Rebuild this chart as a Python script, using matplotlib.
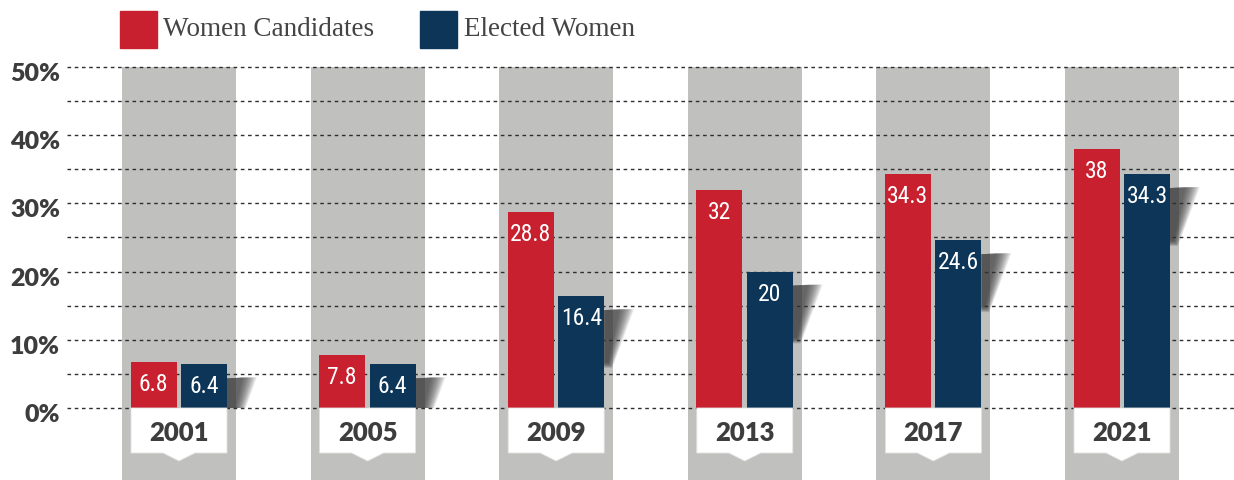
import numpy as np
import matplotlib.pyplot as plt
from matplotlib import font_manager
from matplotlib.patches import Rectangle, Polygon

# Share of women among candidates and among elected members (%)
years = ['2001', '2005', '2009', '2013', '2017', '2021']
candidates = [6.8, 7.8, 28.8, 32, 34.3, 38]
elected = [6.4, 6.4, 16.4, 20, 24.6, 34.3]
y_ticks = [0, 10, 20, 30, 40, 50]
series_names = ['Women Candidates', 'Elected Women']

RED = '#c8202e'
BLUE = '#0c3558'
COLUMN = '#c0c0bf'
TEXT = '#3d3d3d'

# narrow face for the numbers inside the bars, if one is around
installed = {f.name for f in font_manager.fontManager.ttflist}
NUM_FONT = 'Roboto'
for cand in ['Roboto Condensed', 'Liberation Sans Narrow']:
    if cand in installed:
        NUM_FONT = cand
        break

W, H = 1234, 480
fig = plt.figure(figsize=(W / 100, H / 100), dpi=100)
ax = fig.add_axes([0, 0, 1, 1])

# one election per unit on x, percent on y; helpers convert pixel offsets
PX_X = 188.6
PX_Y = 6.82
def dx(p):
    return p / PX_X
def dy(p):
    return p / PX_Y

x0_px, y0_px = 179, 408
ax.set_xlim(-x0_px / PX_X, (W - x0_px) / PX_X)
ax.set_ylim(-(H - y0_px) / PX_Y, y0_px / PX_Y)
ax.axis('off')
ymin = ax.get_ylim()[0]

x = np.arange(len(years))

# grey background column behind each election
ax.bar(x, 50 - ymin, bottom=ymin, width=dx(114), color=COLUMN, zorder=1)

# dotted guide lines every 5%
for v in np.arange(0, 55, 5):
    ax.plot([dx(67 - x0_px), ax.get_xlim()[1]], [v, v], color='#2e2e2e',
            lw=1, linestyle=(0, (2.6, 2.6)), zorder=2)

for v in y_ticks:
    ax.text(dx(60 - x0_px), v - dy(14), f'{v}%', ha='right', va='baseline',
            fontsize=18, fontfamily='Lato', fontweight='heavy', color=TEXT)

ax.bar(x - dx(25.5), candidates, width=dx(46), color=RED, zorder=4)
ax.bar(x + dx(25), elected, width=dx(46), color=BLUE, zorder=4)

# soft drop shadow to the right of the elected bars
n_layers = 18
for xi, e in zip(x, elected):
    xr = xi + dx(48)
    top = e - dy(14)
    for k in range(n_layers):
        f = 0.5 + 0.5 * k / (n_layers - 1)
        tip = 30 * f
        low = 8 * f
        full = 58 * (0.8 + 0.2 * f)
        depth = min(full, top * PX_Y)
        bx = tip - (tip - low) * depth / full
        pts = [(xr, top), (xr + dx(tip), top + dy(1)),
               (xr + dx(bx), top - dy(depth)), (xr, top - dy(depth))]
        ax.add_patch(Polygon(pts, closed=True, facecolor='#3a3a3a',
                             edgecolor='none', alpha=0.075, zorder=3))

for xi, c, e in zip(x, candidates, elected):
    ax.text(xi - dx(25.5), c - dy(29), f'{c:g}', ha='center', va='baseline',
            fontsize=17, fontfamily=NUM_FONT, color='white', zorder=5)
    ax.text(xi + dx(25), e - dy(29), f'{e:g}', ha='center', va='baseline',
            fontsize=17, fontfamily=NUM_FONT, color='white', zorder=5)

# year tag under each pair of bars
for xi, yr in zip(x, years):
    pts = [(xi - dx(48), 0), (xi + dx(48), 0), (xi + dx(48), -dy(45)),
           (xi + dx(16), -dy(45)), (xi, -dy(53)), (xi - dx(16), -dy(45)),
           (xi - dx(48), -dy(45))]
    ax.add_patch(Polygon(pts, closed=True, facecolor='white',
                         edgecolor='#e2e2e2', lw=0.6, zorder=4))
    ax.text(xi, -dy(33), yr, ha='center', va='baseline', fontsize=18.5,
            fontfamily='Lato', fontweight='heavy', color=TEXT, zorder=5)

# legend
for (sx, tx), name, col in zip([(120, 163), (420, 464)], series_names, [RED, BLUE]):
    fig.add_artist(Rectangle((sx / W, 1 - 48 / H), 37 / W, 37 / H,
                             transform=fig.transFigure, color=col))
    fig.text(tx / W, 1 - 36 / H, name, ha='left', va='baseline',
             fontsize=19.5, fontfamily='Liberation Serif', color='#444444')

fig.savefig('out.png', dpi=100)
